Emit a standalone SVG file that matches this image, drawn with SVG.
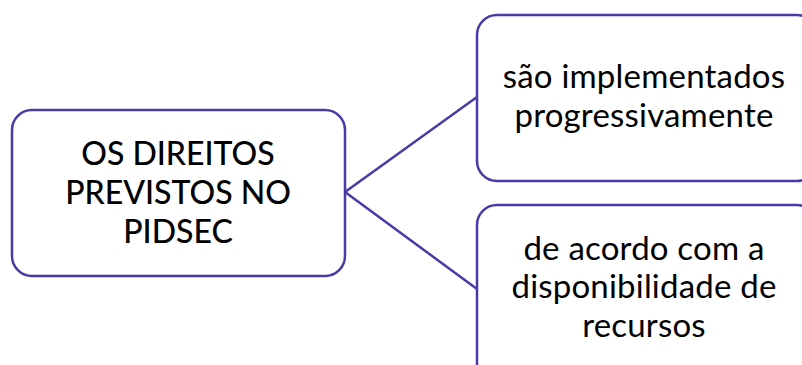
<svg xmlns="http://www.w3.org/2000/svg" width="802" height="365" viewBox="0 0 802 365">
<style>
.box{fill:#fff;stroke:#4a3aa8;stroke-width:2.5}
.con{fill:none;stroke:#4a3aa8;stroke-width:2.5}
.t{font-family:Lato,"Noto Sans",sans-serif;fill:#000;text-anchor:middle}
.l{font-size:32px;font-weight:500}
.r{font-size:33px;letter-spacing:0.2px}
</style>
<rect width="802" height="365" fill="#fff"/>
<g id="connectors">
<line class="con" x1="345" y1="192" x2="477" y2="97"/>
<line class="con" x1="345" y1="192" x2="477" y2="289"/>
</g>
<g id="node-main">
<rect class="box" x="12" y="110" width="333" height="166" rx="20"/>
<text class="t l" x="178" y="165">OS DIREITOS</text>
<text class="t l" x="178" y="204">PREVISTOS NO</text>
<text class="t l" x="178" y="243">PIDSEC</text>
</g>
<g id="node-top">
<rect class="box" x="477" y="15" width="340" height="166" rx="20"/>
<text class="t r" x="644" y="88">são implementados</text>
<text class="t r" x="644" y="127">progressivamente</text>
</g>
<g id="node-bottom">
<rect class="box" x="477" y="205" width="340" height="190" rx="20"/>
<text class="t r" x="644" y="260">de acordo com a</text>
<text class="t r" x="644" y="298">disponibilidade de</text>
<text class="t r" x="644" y="337">recursos</text>
</g>
</svg>
